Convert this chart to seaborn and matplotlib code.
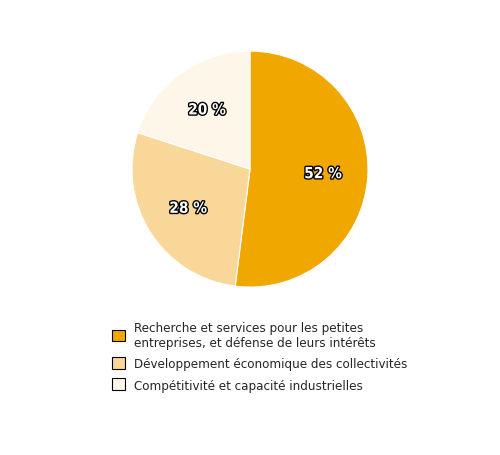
import matplotlib
matplotlib.use("Agg")
import matplotlib.pyplot as plt
import matplotlib.patheffects as pe
from matplotlib.patches import Patch
import seaborn as sns

# ===== DATA =====
categories = [
    "Recherche et services pour les petites\nentreprises, et défense de leurs intérêts",
    "Développement économique des collectivités",
    "Compétitivité et capacité industrielles",
]
shares = [52, 28, 20]
colors = ["#F0A800", "#F9D799", "#FEF6E8"]

sns.set_style("white")
plt.rcParams["font.family"] = ["Liberation Sans Narrow", "DejaVu Sans"]
plt.rcParams["font.stretch"] = "condensed"

fig = plt.figure(figsize=(5.0, 4.56), dpi=100)
ax = fig.add_axes([0.264, 0.368, 0.472, 0.518])
wedges, texts, autotexts = ax.pie(
    shares, colors=colors, startangle=90, counterclock=False,
    autopct=lambda p: f"{p:.0f} %", pctdistance=0.62,
    wedgeprops=dict(edgecolor="white", linewidth=0.8),
)
for t in autotexts:
    t.set_color("white")
    t.set_fontsize(11)
    t.set_fontweight("bold")
    t.set_path_effects([pe.withStroke(linewidth=2, foreground="black")])
ax.set_xlim(-1, 1)
ax.set_ylim(-1, 1)
ax.set_aspect("equal")

handles = [Patch(facecolor=c, edgecolor="black", linewidth=0.8) for c in colors]
fig.legend(handles, categories, loc="upper left", bbox_to_anchor=(0.2, 0.32),
           frameon=False, fontsize=9.5, handlelength=1.0, handleheight=1.0,
           handletextpad=0.7, labelspacing=0.6)

fig.savefig("out.png", dpi=100, facecolor="white")
